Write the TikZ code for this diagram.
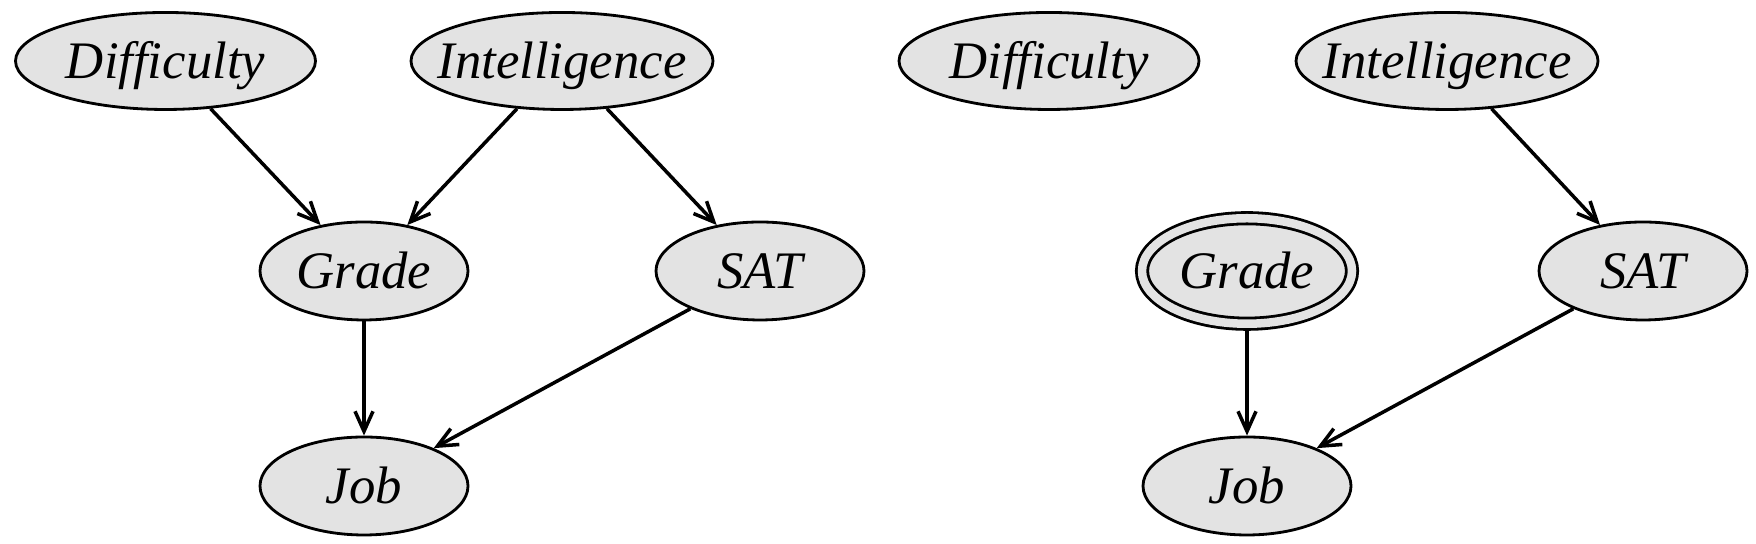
\documentclass[tikz,border=0pt]{standalone}
\usepackage{fontspec}
\setmainfont{Liberation Serif}
\usepackage{tikz}
\usetikzlibrary{arrows.meta,shapes.geometric}
\definecolor{nodegray}{RGB}{227,227,227}

\begin{document}
\begin{tikzpicture}
		\useasboundingbox (0,0) rectangle (17.56,5.44);
		\begin{scope}[every node/.style={ellipse,draw,line width=0.8pt,fill=nodegray,
		              font=\fontsize{15}{18}\selectfont\itshape,
		              inner xsep=-2.5mm,inner ysep=0pt,text height=12pt,text depth=2.1pt,
		              minimum width=2.08cm,minimum height=0.98cm}]
		    % left network
		    \node[minimum width=3cm,minimum height=0.97cm] (dif1) at (1.655,4.83) {Difficulty};
		    \node[minimum width=3.02cm,minimum height=0.97cm] (int1) at (5.62,4.83) {Intelligence};
		    \node (gra1) at (3.64,2.73) {Grade};
		    \node (sat1) at (7.60,2.73) {SAT};
		    \node (job1) at (3.64,0.58) {Job};
		    % right network, Grade observed
		    \node[minimum width=3cm,minimum height=0.97cm] (dif2) at (10.49,4.83) {Difficulty};
		    \node[minimum width=3.02cm,minimum height=0.97cm] (int2) at (14.47,4.83) {Intelligence};
		    \node[double=nodegray,double distance=0.85mm,outer sep=2pt,
		          minimum width=2.10cm,minimum height=1.055cm] (gra2) at (12.47,2.73) {Grade};
		    \node (sat2) at (16.43,2.73) {SAT};
		    \node (job2) at (12.47,0.58) {Job};
		\end{scope}
		
		\begin{scope}[line width=1pt,>={Straight Barb[length=2mm,width=1.8mm]},
		              every edge/.style={draw=black}]
		    	\path (dif1) edge[->] (gra1);
		    	\path (int1) edge[->] (gra1);
		    	\path (int1) edge[->] (sat1);
		    	\path (gra1) edge[->] (job1);
		    	\path (sat1) edge[->] (job1);
		    	\path (int2) edge[->] (sat2);
		    	\path (gra2) edge[->] (job2);
		    	\path (sat2) edge[->] (job2);
		\end{scope}
\end{tikzpicture}
\end{document}
